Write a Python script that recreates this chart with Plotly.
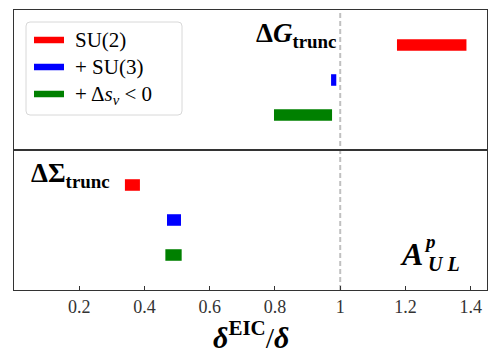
import plotly.graph_objects as go
from plotly.subplots import make_subplots

# rows, top to bottom: SU(2), + SU(3), + Delta s_v < 0
labels = ["SU(2)", "+ SU(3)", "+ Δ<i>s</i><sub><i>v</i></sub> &lt; 0"]
colors = ["red", "blue", "green"]
rows = [3, 2, 1]

# Delta G_trunc ranges of delta^EIC/delta
dg_lo = [1.174, 0.972, 0.797]
dg_hi = [1.387, 0.988, 0.975]

# Delta Sigma_trunc ranges
ds_lo = [0.340, 0.469, 0.464]
ds_hi = [0.386, 0.512, 0.514]

tick_vals = [0.2, 0.4, 0.6, 0.8, 1.0, 1.2, 1.4]
tick_text = ["0.2", "0.4", "0.6", "0.8", "1", "1.2", "1.4"]

serif = "Liberation Serif"
frame = "#333"
W, H = 498, 356
ML, MR, MT, MB = 14, 11, 10, 66

fig = make_subplots(rows=2, cols=1, shared_xaxes=True, vertical_spacing=0)

for lo, hi, r in [(dg_lo, dg_hi, 1), (ds_lo, ds_hi, 2)]:
    fig.add_trace(go.Bar(
        y=rows, base=lo, x=[h - l for l, h in zip(lo, hi)],
        orientation="h", width=0.33,
        marker=dict(color=colors, line=dict(width=0)),
        showlegend=False, hoverinfo="skip"), row=r, col=1)

fig.add_shape(type="line", xref="x", yref="paper", x0=1, x1=1, y0=0, y1=1,
              line=dict(color="#c0c0c0", width=2, dash="5px,3px"), layer="below")


# pixel -> paper helpers for the hand-made legend box
def px(v):
    return (v - ML) / (W - ML - MR)


def py(v):
    return (H - MB - v) / (H - MT - MB)


# legend frame with rounded corners
x0, x1, y0, y1, rr = 26, 182, 22, 115, 4
path = (f"M {px(x0 + rr)},{py(y0)} L {px(x1 - rr)},{py(y0)} "
        f"Q {px(x1)},{py(y0)} {px(x1)},{py(y0 + rr)} L {px(x1)},{py(y1 - rr)} "
        f"Q {px(x1)},{py(y1)} {px(x1 - rr)},{py(y1)} L {px(x0 + rr)},{py(y1)} "
        f"Q {px(x0)},{py(y1)} {px(x0)},{py(y1 - rr)} L {px(x0)},{py(y0 + rr)} "
        f"Q {px(x0)},{py(y0)} {px(x0 + rr)},{py(y0)} Z")
fig.add_shape(type="path", path=path, xref="paper", yref="paper",
              fillcolor="white", line=dict(color="#d8d8d8", width=1))
for i, (name, c) in enumerate(zip(labels, colors)):
    yy = 40 + 27 * i
    fig.add_shape(type="line", xref="paper", yref="paper",
                  x0=px(34), x1=px(64), y0=py(yy), y1=py(yy),
                  line=dict(color=c, width=6.5))
    fig.add_annotation(x=px(73), y=py(yy + (1 if i == 2 else 0)), xref="paper", yref="paper",
                       xanchor="left", yanchor="middle", text=name, showarrow=False,
                       font=dict(family=serif, size=21, color="black"))


def note(text, x, y, size, xref="x2", yref="y2", **kw):
    fig.add_annotation(x=x, y=y, xref=xref, yref=yref, text=text, showarrow=False,
                       font=dict(family=serif, size=size, color="black"), **kw)


note("<b>Δ<i>G</i></b><sub><b>trunc</b></sub>", 0.995, 3.3, 27,
     xref="x", yref="y", xanchor="right")
note("<b>ΔΣ</b><sub><b>trunc</b></sub>", 0.045, 3.3, 27, xanchor="left")
note("<b><i>A</i></b>", 1.218, 1.03, 32)
note("<b><i>p</i></b>", 1.276, 1.40, 19)
note("<b><i>U L</i></b>", 1.319, 0.75, 20)

# x-axis title placed as a paper annotation
note("<b><i>δ</i></b><sup><b>EIC</b></sup>/<b><i>δ</i></b>", 0.5, py(356), 30,
     xref="paper", yref="paper", yanchor="bottom")

xa = dict(range=[0, 1.45], showline=True, mirror=True, linecolor=frame,
          linewidth=1.2, showgrid=False, zeroline=False,
          tickvals=tick_vals, ticktext=tick_text)
fig.update_xaxes(**xa)
fig.update_xaxes(showticklabels=False, ticks="", row=1, col=1)
fig.update_xaxes(ticks="inside", ticklen=4, tickcolor=frame,
                 tickfont=dict(family=serif, size=18, color="#333"),
                 row=2, col=1)
fig.update_yaxes(range=[0, 4], showline=True, mirror=True, linecolor=frame,
                 linewidth=1.2, showgrid=False, zeroline=False,
                 showticklabels=False, ticks="")

fig.update_layout(
    width=W, height=H,
    margin=dict(l=ML, r=MR, t=MT, b=MB),
    plot_bgcolor="white", paper_bgcolor="white",
    barmode="overlay", showlegend=False,
)

fig.write_html("out.html", config={"displayModeBar": False},
               post_script="document.body.style.margin='0';")
